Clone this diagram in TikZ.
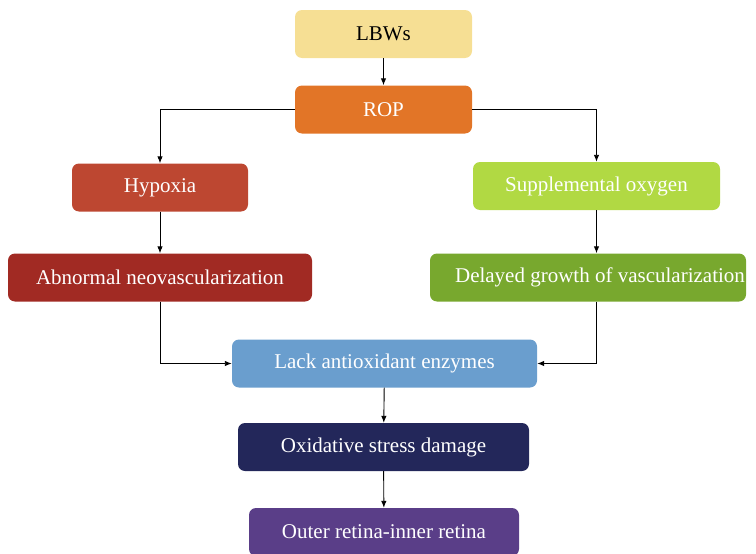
\documentclass[tikz,border=0pt]{standalone}
\usepackage{fontspec}
\setmainfont{Liberation Serif}
\usetikzlibrary{arrows.meta,positioning,calc}
\definecolor{collbw}{HTML}{F6DF94}
\definecolor{colrop}{HTML}{E27527}
\definecolor{colhyp}{HTML}{BD4731}
\definecolor{colsup}{HTML}{B1D943}
\definecolor{colabn}{HTML}{A12A23}
\definecolor{coldel}{HTML}{78A82E}
\definecolor{collack}{HTML}{6A9ECE}
\definecolor{coloxi}{HTML}{23275A}
\definecolor{colout}{HTML}{5A3E88}

\begin{document}
\begin{tikzpicture}[
  x=1pt,y=-1pt,
  font=\fontsize{21}{25}\selectfont,
  box/.style={rectangle,rounded corners=7pt,inner sep=0pt,text=white,
              minimum height=48pt},
  link/.style={line width=0.9pt,-{Latex[length=7pt,width=5.5pt]}},
]
  \useasboundingbox (0,0) rectangle (756,554);
  % ---- top: cause ----
  \node[box,fill=collbw,text=black,minimum width=177pt] (lbw) at (383.5,34)  {LBWs};
  \node[box,fill=colrop,minimum width=177pt]  (rop) at (383.5,109.5) {ROP};
  % ---- left branch ----
  \node[box,fill=colhyp,minimum width=176pt]  (hyp) at (160,187.5)   {Hypoxia};
  \node[box,fill=colabn,minimum width=304pt]  (abn) at (160,277.5)   {Abnormal neovascularization};
  % ---- right branch ----
  \node[box,fill=colsup,minimum width=247pt]  (sup) at (596.5,186)   {Supplemental oxygen};
  \node[box,fill=coldel,minimum width=316pt]  (del) at (588,277.5)   {\hspace*{24pt}Delayed growth of vascularization};
  % ---- bottom: effect ----
  \node[box,fill=collack,minimum width=305pt] (lack) at (384.5,363.5) {Lack antioxidant enzymes};
  \node[box,fill=coloxi,minimum width=291pt]  (oxi) at (383.5,447)    {Oxidative stress damage};
  \node[box,fill=colout,minimum width=270pt]  (out) at (384,532)      {Outer retina-inner retina};

  \draw[link] (lbw) -- (rop);
  \draw[link] (rop.west) -| (hyp.north);
  \draw[link] (rop.east) -| (sup.north);
  \draw[link] (hyp) -- (abn);
  \draw[link] (sup.south) -- (sup.south |- del.north);
  \draw[link] (abn.south) |- (lack.west);
  \draw[link] (del.south -| sup.south) |- (lack.east);
  \draw[link] (lack) -- (oxi);
  \draw[link] (oxi) -- (out);
\end{tikzpicture}
\end{document}
